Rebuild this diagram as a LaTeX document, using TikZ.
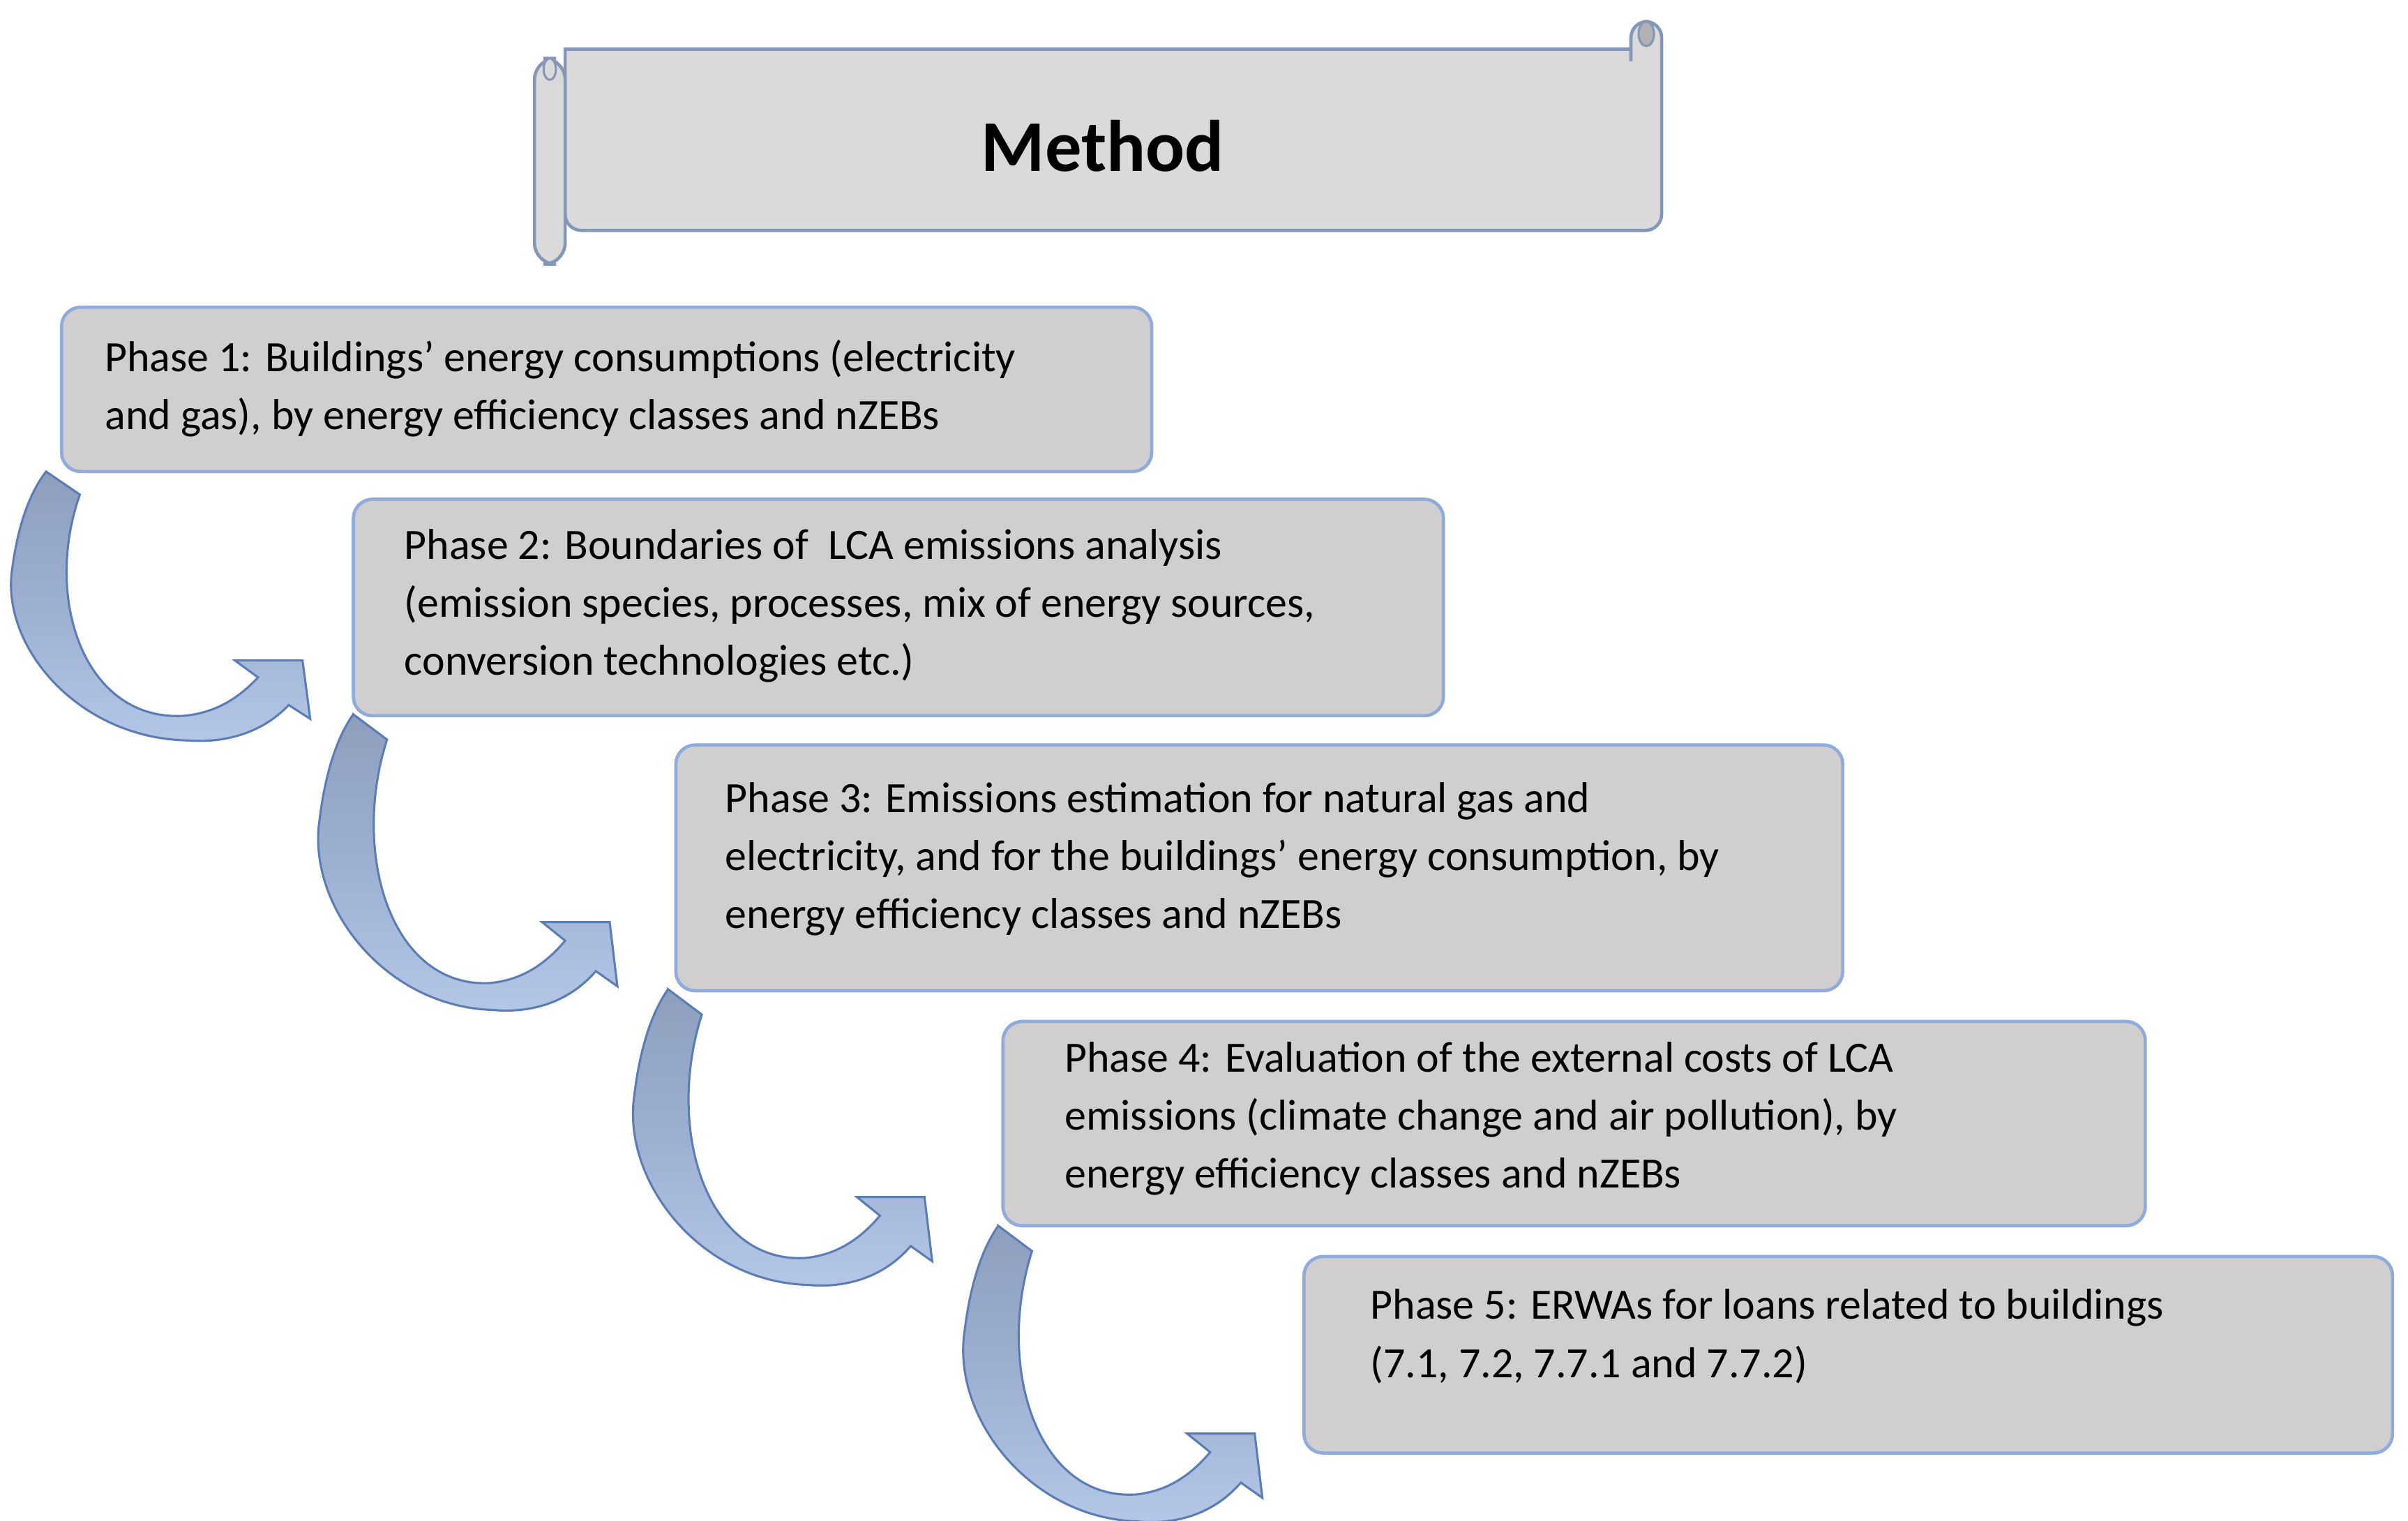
\documentclass[tikz,border=0pt]{standalone}
\usepackage{fontspec}
\setmainfont{Carlito}
\begin{document}
\begin{tikzpicture}[x=0.02cm,y=-0.02cm,
  box/.style={draw=boxedge,line width=1.2pt,fill=boxfill,rounded corners=0.25cm},
  txt/.style={anchor=north west,inner sep=0pt,align=left,font=\fontsize{16}{21.5}\selectfont},
  arr/.style={draw=arrowedge,line width=0.8pt,top color=arrowtop,bottom color=arrowbot,middle color=arrowmid}]
\definecolor{boxfill}{HTML}{D0CECE}
\definecolor{boxedge}{HTML}{8FAADC}
\definecolor{scrollfill}{HTML}{DADADA}
\definecolor{scrolledge}{HTML}{8497B8}
\definecolor{arrowedge}{HTML}{5B7DB5}
\definecolor{arrowtop}{HTML}{8E9FBD}
\definecolor{arrowmid}{HTML}{9DB0D2}
\definecolor{arrowbot}{HTML}{B4C7E7}
\useasboundingbox[fill=white] (0,0) rectangle (1568,990);
% scroll
\begin{scope}[draw=scrolledge,line width=1.2pt]
\filldraw[fill=scrollfill,rounded corners=6pt] (1062,40) -- (1062,14) -- (1082,14) -- (1082,150) -- (368,150) [sharp corners] -- (368,32) -- (1062,32);
\filldraw[fill=scrollfill,rounded corners=8pt] (348,38) rectangle (368,172);
\draw[line width=0.8pt,fill=scrollfill] (358,45) ellipse (4 and 7);
\draw[line width=0.8pt,fill=gray!60] (1072,22) ellipse (5 and 8);
\end{scope}
\node[font=\fontsize{27}{30}\bfseries] (title) at (718,95) {Method};
% boxes
\node[box,minimum width=14.2cm,minimum height=2.14cm] (b1) at (395,253.5) {};
\node[box,minimum width=14.2cm,minimum height=2.82cm] (b2) at (585,395.5) {};
\node[box,minimum width=15.2cm,minimum height=3.2cm] (b3) at (820,565) {};
\node[box,minimum width=14.88cm,minimum height=2.66cm] (b4) at (1025,731.5) {};
\node[box,minimum width=14.18cm,minimum height=2.56cm] (b5) at (1203.5,882) {};
\node[txt] (t1) at (68,221) {Phase 1: Buildings’ energy consumptions (electricity\\and gas), by energy efficiency classes and nZEBs};
\node[txt] (t2) at (263,344) {Phase 2: Boundaries of\ \ LCA emissions analysis\\(emission species, processes, mix of energy sources,\\conversion technologies etc.)};
\node[txt] (t3) at (472,509) {Phase 3: Emissions estimation for natural gas and\\electricity, and for the buildings’ energy consumption, by\\energy efficiency classes and nZEBs};
\node[txt] (t4) at (693,678) {Phase 4: Evaluation of the external costs of LCA\\emissions (climate change and air pollution), by\\energy efficiency classes and nZEBs};
\node[txt] (t5) at (892,839) {Phase 5: ERWAs for loans related to buildings\\(7.1, 7.2, 7.7.1 and 7.7.2)};
% arrows
\def\arrowpath{(30,307) -- (52,322) .. controls (28,390) and (55,470) .. (120,466) .. controls (140,464) and (155,455) .. (168,441) -- (153,430) -- (197,430) -- (202,468) -- (188,459) .. controls (170,478) and (145,484) .. (121,482) .. controls (50,480) and (0,420) .. (8,370) .. controls (12,340) and (20,320) .. cycle}
\path[arr] \arrowpath;
\begin{scope}[shift={(200,158)}]\begin{scope}[yshift=0.614cm,yscale=1.1]\path[arr] \arrowpath;\end{scope}\end{scope}
\begin{scope}[shift={(405,337)}]\begin{scope}[yshift=0.614cm,yscale=1.1]\path[arr] \arrowpath;\end{scope}\end{scope}
\begin{scope}[shift={(620,491)}]\begin{scope}[yshift=0.614cm,yscale=1.1]\path[arr] \arrowpath;\end{scope}\end{scope}
\end{tikzpicture}
\end{document}
